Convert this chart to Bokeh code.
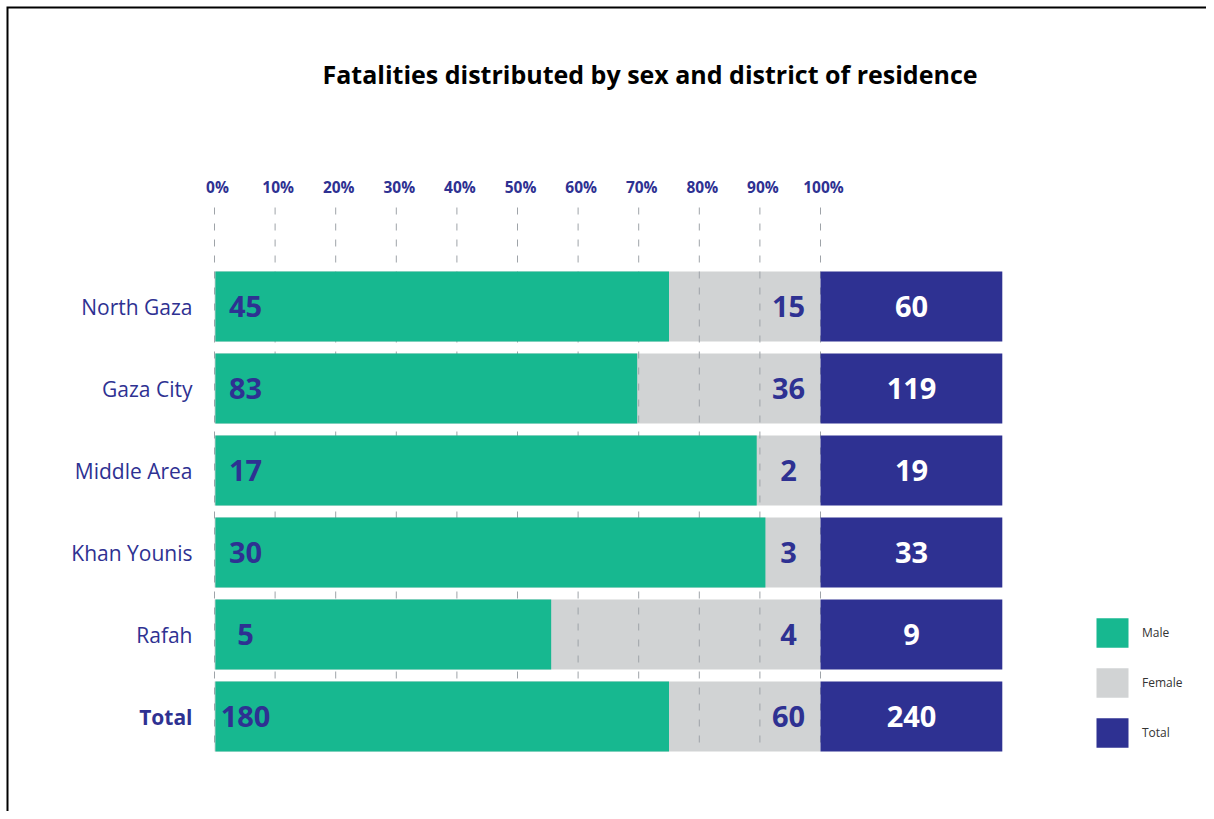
from bokeh.plotting import figure
from bokeh.models import Range1d, ColumnDataSource, Legend, LegendItem
from bokeh.core.properties import value
from bokeh.embed import file_html
from bokeh.resources import INLINE

# ---------------- data ----------------
districts = ["North Gaza", "Gaza City", "Middle Area", "Khan Younis", "Rafah", "Total"]
male = [45, 83, 17, 30, 5, 180]
female = [15, 36, 2, 3, 4, 60]
total = [60, 119, 19, 33, 9, 240]
pct_ticks = [0, 10, 20, 30, 40, 50, 60, 70, 80, 90, 100]
pct_labels = ["0%", "10%", "20%", "30%", "40%", "50%", "60%", "70%", "80%", "90%", "100%"]
title_text = "Fatalities distributed by sex and district of residence"

# ---------------- colours / styles ----------------
GREEN = "#17B890"
GREY = "#D1D3D4"
NAVY = "#2E3192"
FONT = "Open Sans"

W, H = 1206, 811
PX_PER_PCT = 6.06      # pixels per percent on the x scale
PX_PER_ROW = 82.0      # pixels per row on the y scale
X0_PX = 214            # pixel of 0 %
ROW0_PX = 306          # pixel of first row centre

x_start = -X0_PX / PX_PER_PCT
x_end = x_start + W / PX_PER_PCT
y_top = -ROW0_PX / PX_PER_ROW
y_bottom = y_top + H / PX_PER_ROW


def ypix(py):
    """pixel (from top) -> y data value"""
    return y_top + py / PX_PER_ROW


def xpix(px):
    return x_start + px / PX_PER_PCT


rows = list(range(len(districts)))
male_pct = [m / t * 100 for m, t in zip(male, total)]
TOTAL_BAR = 30

src = ColumnDataSource(dict(
    y=rows,
    district=districts,
    male=male, female=female, total=total,
    male_pct=male_pct,
    hundred=[100] * len(rows),
    tot_end=[100 + TOTAL_BAR] * len(rows),
    male_txt=[str(v) for v in male],
    female_txt=[str(v) for v in female],
    total_txt=[str(v) for v in total],
    style=["normal"] * (len(rows) - 1) + ["bold"],
))

p = figure(width=W, height=H, output_backend="svg", toolbar_location=None,
           x_range=Range1d(x_start, x_end), y_range=Range1d(y_bottom, y_top),
           min_border=0, outline_line_color=None)
p.axis.visible = False
p.grid.visible = False
p.background_fill_color = "white"
p.border_fill_color = "white"

BAR_H = 70 / PX_PER_ROW

# female (grey) bars span full 0-100 behind
r_f = p.hbar(y="y", left=0, right="hundred", height=BAR_H, source=src,
             fill_color=GREY, line_color=None)

# dashed grid lines
p.segment(x0=pct_ticks, x1=pct_ticks,
          y0=[ypix(207)] * len(pct_ticks), y1=[ypix(751)] * len(pct_ticks),
          line_color="#9EA3A8", line_width=1, line_dash="7 9")

r_m = p.hbar(y="y", left=0.15, right="male_pct", height=BAR_H, source=src,
             fill_color=GREEN, line_color=None)
r_t = p.hbar(y="y", left="hundred", right="tot_end", height=BAR_H, source=src,
             fill_color=NAVY, line_color=None)

# value labels
p.text(x=xpix(245), y="y", text="male_txt", source=src, text_align="center",
       text_baseline="middle", text_color=NAVY, text_font=value(FONT),
       text_font_style="bold", text_font_size="29px")
p.text(x=xpix(788), y="y", text="female_txt", source=src, text_align="center",
       text_baseline="middle", text_color=NAVY, text_font=value(FONT),
       text_font_style="bold", text_font_size="29px")
p.text(x=xpix(911), y="y", text="total_txt", source=src, text_align="center",
       text_baseline="middle", text_color="white", text_font=value(FONT),
       text_font_style="bold", text_font_size="29px")

# category labels
p.text(x=xpix(192), y="y", text="district", source=src, text_align="right",
       text_baseline="middle", text_color=NAVY, text_font=value(FONT),
       text_font_style="style", text_font_size="21px")

# percent labels (top)
p.text(x=[t + 0.5 for t in pct_ticks], y=[ypix(186)] * len(pct_ticks), text=pct_labels,
       text_align="center", text_baseline="middle", text_color=NAVY,
       text_font=value(FONT), text_font_style="bold", text_font_size="15.5px")

# title
p.text(x=[xpix(649.5)], y=[ypix(73)], text=[title_text], text_align="center",
       text_baseline="middle", text_color="black", text_font=value(FONT),
       text_font_style="bold", text_font_size="25px")

# frame border (left and top edges only, as in the cropped original)
p.line(x=[xpix(7), xpix(7), x_end + 5], y=[y_bottom + 1, ypix(7), ypix(7)],
       line_color="black", line_width=2, line_join="miter")

legend = Legend(items=[
    LegendItem(label="Male", renderers=[r_m]),
    LegendItem(label="Female", renderers=[r_f]),
    LegendItem(label="Total", renderers=[r_t]),
], location=(1092, H - 751), orientation="vertical",
    glyph_width=40, glyph_height=37, spacing=13, padding=0, margin=0,
    label_standoff=10, label_height=20,
    label_text_font=FONT, label_text_font_size="12px", label_text_color="#333333",
    border_line_color=None, background_fill_alpha=0)
p.add_layout(legend, "center")

open("out.html", "w").write(file_html(p, INLINE))
